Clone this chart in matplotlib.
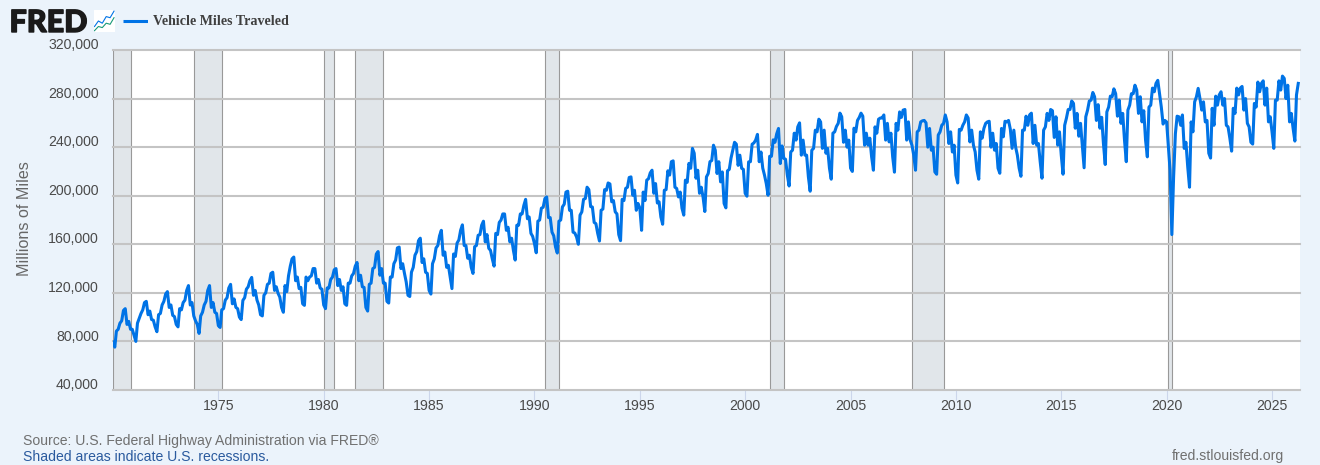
import matplotlib
matplotlib.use('Agg')
import matplotlib.pyplot as plt
import matplotlib.patheffects as pe
from matplotlib.transforms import ScaledTranslation
import pandas as pd

# monthly vehicle miles, millions (one row per year, Jan..Dec)
vmt_1970s = [
    79500, 75300, 88500, 90000, 95000, 97000, 105500, 107000, 94000, 96500, 90000, 90000,
    85000, 80000, 95000, 99000, 103000, 106000, 112000, 113000, 102000, 105000, 98000, 97500,
    92000, 88000, 102000, 103000, 110000, 113000, 119000, 121000, 108000, 110000, 101500, 100500,
    94000, 92000, 107000, 106000, 112000, 114000, 122000, 126000, 110000, 112000, 101000, 97000,
    94000, 86600, 101000, 104000, 110000, 113000, 122000, 126000, 108000, 112000, 104000, 103000,
    93000, 91500, 106000, 107000, 114000, 116000, 124000, 127000, 111000, 115000, 108000, 107000,
    100000, 98000, 113800, 116000, 123000, 125000, 130000, 132700, 118000, 122000, 114000, 110000,
    102000, 101000, 118000, 120000, 127000, 128000, 136000, 137000, 122000, 125000, 119600, 116500,
    108000, 104000, 126000, 121000, 134000, 142000, 148000, 149500, 130000, 133000, 123500, 124500,
    111000, 109700, 133000, 130000, 133000, 134000, 140000, 140000, 128000, 131000, 124000, 123000,
]
vmt_1980s = [
    110000, 107000, 124000, 124000, 131000, 133000, 139000, 140000, 126000, 131000, 122000, 125000,
    111000, 109700, 128000, 128000, 134000, 136000, 142000, 145000, 130000, 134500, 125000, 124500,
    108000, 105000, 127000, 128000, 140000, 141000, 152000, 154000, 134500, 140000, 128000, 128000,
    113000, 111600, 133000, 133000, 144000, 147000, 157000, 157700, 140000, 144000, 136000, 129000,
    118000, 117000, 137000, 141000, 151000, 154000, 163000, 165000, 145000, 148000, 137000, 136000,
    122000, 119000, 144000, 148000, 157000, 159000, 167000, 171500, 151000, 153600, 141000, 142700,
    133000, 123500, 152000, 150000, 161000, 163600, 171500, 176000, 159000, 159000, 148500, 151000,
    141000, 136000, 158000, 159000, 167400, 168000, 175700, 179000, 162000, 168000, 156700, 155000,
    148000, 142000, 169000, 168000, 178000, 180000, 185000, 185000, 171500, 174000, 162000, 165000,
    155000, 147000, 175700, 175700, 185000, 185000, 192000, 197000, 181000, 182500, 169000, 166500,
]
vmt_1990s = [
    160600, 153000, 179000, 180000, 189700, 190500, 197700, 199000, 182000, 182000, 170000, 167000,
    157800, 152800, 179000, 180000, 190800, 193000, 203000, 203700, 188000, 188000, 170000, 169300,
    166000, 160000, 184000, 186700, 197000, 197700, 207000, 205000, 191000, 190700, 178000, 177000,
    169000, 162700, 188000, 189000, 205000, 204500, 210500, 209700, 195000, 196000, 186700, 185000,
    168000, 163000, 197000, 196000, 206000, 207000, 215000, 215500, 200400, 204500, 188000, 193600,
    190000, 171500, 203000, 196000, 212800, 214000, 218800, 221000, 202000, 210000, 194000, 195000,
    182500, 176500, 204500, 205000, 220500, 217000, 228000, 228700, 207000, 206000, 199000, 203000,
    189700, 184000, 212800, 211000, 226600, 222600, 239000, 235000, 214400, 221000, 202000, 207000,
    199000, 187000, 215500, 218300, 228000, 229000, 241600, 237500, 218300, 228000, 211400, 219600,
    193600, 190000, 220500, 221700, 231000, 237500, 244000, 242500, 225000, 233400, 222600, 221700,
]
vmt_2000s = [
    202000, 199600, 227900, 228000, 242400, 243500, 245800, 250500, 228000, 236000, 222700, 217000,
    210000, 200400, 232500, 232500, 246000, 244000, 251000, 255400, 226500, 241000, 230800, 230000,
    217000, 208000, 236000, 237500, 251500, 245800, 256700, 260000, 233400, 245800, 233400, 233400,
    215500, 203700, 237500, 239000, 254000, 252600, 263000, 260800, 239000, 254000, 235000, 239000,
    222700, 213600, 251500, 252600, 257000, 259600, 268000, 265000, 244000, 254000, 240000, 245800,
    222700, 220000, 255600, 252600, 262000, 264500, 268000, 265500, 241600, 251500, 241600, 247400,
    232000, 221000, 256700, 251500, 263000, 264000, 264000, 266500, 245800, 259600, 244300, 251500,
    232000, 219400, 259600, 254000, 269000, 264500, 270500, 271000, 245800, 260800, 245800, 241600,
    233400, 221000, 252600, 254000, 260800, 261700, 262000, 260000, 240000, 255400, 237500, 240000,
    219600, 217700, 250000, 252600, 258000, 259600, 266500, 260800, 243000, 252600, 236000, 241600,
]
vmt_2010s = [
    217000, 210500, 254600, 254000, 258000, 260800, 266500, 264000, 244300, 254000, 241600, 236000,
    221000, 213600, 252600, 247400, 255400, 259600, 260800, 261300, 240000, 251500, 237500, 243000,
    222700, 218500, 255400, 248500, 261300, 260800, 262000, 254800, 239000, 254000, 240000, 233400,
    222700, 216000, 254000, 254000, 265500, 258000, 266500, 268000, 243000, 258000, 241600, 243000,
    227900, 214400, 254000, 256700, 267800, 262000, 271000, 270000, 248000, 265000, 241600, 252600,
    233400, 217700, 258000, 264000, 271000, 271000, 278000, 276000, 255600, 267800, 249000, 259600,
    241600, 223000, 265000, 270500, 278000, 278700, 285000, 281500, 262000, 275000, 255600, 264600,
    243000, 225700, 269000, 273000, 282000, 281500, 288000, 284000, 265500, 278700, 259600, 267800,
    245800, 228000, 270500, 274600, 284000, 284000, 291000, 287000, 267800, 281500, 260800, 270000,
    245800, 232000, 273000, 274600, 288600, 285600, 292500, 295000, 284000, 273000, 259000, 262000,
]
vmt_2020s = [
    260800, 240000, 221000, 168000, 215000, 251000, 265500, 265000, 258000, 266500, 239000, 244000,
    223800, 207000, 260800, 252600, 277300, 281500, 288400, 280000, 270500, 277300, 260800, 262000,
    235000, 231000, 272000, 258000, 282000, 274600, 283000, 285600, 274600, 280000, 258000, 256700,
    247400, 236700, 272000, 267800, 288600, 283000, 288600, 290000, 270500, 280000, 259600, 256700,
    244000, 242500, 276000, 273000, 293600, 285600, 292500, 294600, 274600, 288600, 260800, 265000,
    252600, 239000, 278700, 278700, 294600, 287000, 298500, 296600, 280000, 291000, 260800, 267800,
    255600, 245000, 283000, 292500,
]
values = vmt_1970s + vmt_1980s + vmt_1990s + vmt_2000s + vmt_2010s + vmt_2020s
dates = pd.date_range('1970-01-01', periods=len(values), freq='MS')

recession_starts = ['1970-01-01', '1973-11-01', '1980-01-01', '1981-07-01', '1990-07-01',
                    '2001-03-01', '2007-12-01', '2020-02-01']
recession_ends = ['1970-11-01', '1975-03-01', '1980-07-01', '1982-11-01', '1991-03-01',
                  '2001-11-01', '2009-06-01', '2020-04-01']

y_ticks = [40000, 80000, 120000, 160000, 200000, 240000, 280000, 320000]
x_tick_years = list(range(1975, 2030, 5))

# the little chart icon next to the logo
icon_x = [0, 2, 4, 6, 8, 10]
icon_blue = [2.5, 5, 4, 7, 6.5, 9.5]
icon_green = [0.6, 2.5, 2, 4, 3.5, 6.5]

W, H = 1320, 465
BG = '#ebf3fb'
LINE = '#0073e6'

fig = plt.figure(figsize=(W / 100, H / 100), dpi=100, facecolor=BG)
plt.rcParams['font.family'] = ['Liberation Sans', 'DejaVu Sans']

ax = fig.add_axes([113 / W, 1 - 390 / H, (1300 - 113) / W, (390 - 50) / H])

for start, end in zip(recession_starts, recession_ends):
    s, e = pd.Timestamp(start), pd.Timestamp(end)
    ax.axvspan(s, e, facecolor='#e1e6ea', edgecolor='none', zorder=1)
    ax.axvline(s, color='#999999', lw=0.8, zorder=1.5)
    ax.axvline(e, color='#999999', lw=0.8, zorder=1.5)

ax.grid(axis='y', color='#c4c4c4', lw=1.5, zorder=2)
ax.set_axisbelow(False)
ax.plot(dates, values, color=LINE, lw=2.2, solid_joinstyle='round', zorder=3)
for ln in ax.get_ygridlines():
    ln.set_zorder(2)
    ln.set_clip_on(False)

ax.set_xlim(pd.Timestamp('1970-01-01'), pd.Timestamp('2026-05-01'))
ax.set_ylim(40000, 320000)
ax.set_yticks(y_ticks)
ax.set_yticklabels([f'{v:,}' for v in y_ticks])
ax.set_xticks([pd.Timestamp(f'{y}-01-01') for y in x_tick_years])
ax.set_xticklabels([str(y) for y in x_tick_years])
ax.tick_params(axis='y', length=0, pad=10.2, labelsize=10.2, labelcolor='#4a4a4a')
ax.tick_params(axis='x', length=7, width=0.8, color='#ccd6eb', pad=-0.5, labelsize=10.2, labelcolor='#4a4a4a')
down = ScaledTranslation(0, -1.5 / 72, fig.dpi_scale_trans)
for lab in ax.get_yticklabels():
    lab.set_verticalalignment('bottom')
    lab.set_transform(lab.get_transform() + down)

for side in ['top', 'right', 'left']:
    ax.spines[side].set_visible(False)
ax.spines['bottom'].set_color('#c5cfe0')
ax.spines['bottom'].set_linewidth(1.4)


def put(x, y, s, **kw):
    # x, y in pixels of the 1320x465 picture
    return fig.text(x / W, 1 - y / H, s, **kw)


put(24.5, 219, 'Millions of Miles', rotation=90, ha='center', va='center', fontsize=11.6, color='#666666')

# header
logo = put(9.5, 32, 'FRED', ha='left', va='baseline', fontsize=22, fontweight=900,
           family=['Lato', 'Liberation Sans'], color='#1a1a1a')
logo.set_path_effects([pe.withStroke(linewidth=1.0, foreground='#1a1a1a')])
icon = fig.add_axes([93.5 / W, 1 - 32 / H, 21.5 / W, 22 / H], facecolor='white')
icon.plot(icon_x, icon_blue, color=LINE, lw=0.8)
icon.plot(icon_x, icon_green, color='#1a9a78', lw=0.8)
icon.set_xlim(-0.5, 10.5)
icon.set_ylim(0, 10)
icon.axis('off')
icon.add_patch(plt.Rectangle((0, 0), 1, 1, transform=icon.transAxes, color='white', zorder=0))

key = fig.add_axes([123 / W, 1 - 24 / H, 25 / W, 5 / H])
key.axis('off')
key.plot([0, 1], [0.5, 0.5], color=LINE, lw=2.2, solid_capstyle='butt')
key.set_xlim(0, 1)
put(153, 21.5, 'Vehicle Miles Traveled', ha='left', va='center', fontsize=10.05, fontweight='bold',
    family=['Liberation Serif', 'DejaVu Serif'], color='#3f3f3f')

# footer
put(23, 441, 'Source: U.S. Federal Highway Administration via FRED\u00ae', ha='left', va='center',
    fontsize=10.05, color='#707070')
put(23, 457, 'Shaded areas indicate U.S. recessions.', ha='left', va='center', fontsize=10.05, color='#2a5a9e')
put(1284, 456, 'fred.stlouisfed.org', ha='right', va='center', fontsize=10.05, color='#707070')

fig.savefig('out.png', dpi=100, facecolor=BG)
